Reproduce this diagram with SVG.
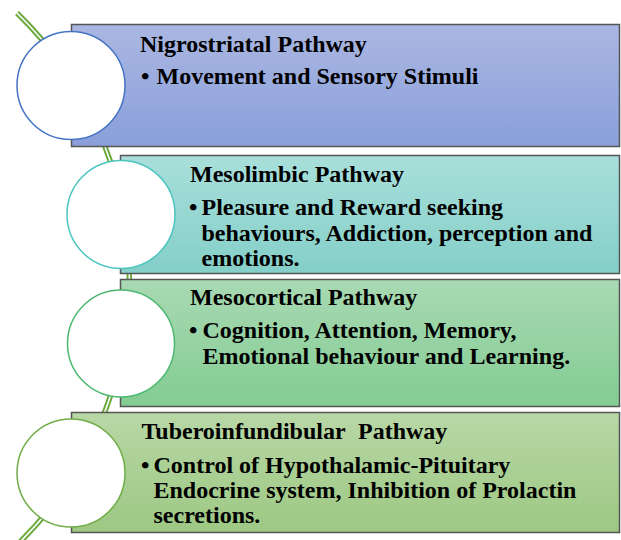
<svg xmlns="http://www.w3.org/2000/svg" width="621" height="540" viewBox="0 0 621 540">
<defs>
<linearGradient id="g1" x1="0" y1="0" x2="0" y2="1"><stop offset="0" stop-color="#AAB7E2"/><stop offset="1" stop-color="#8A9FDA"/></linearGradient>
<linearGradient id="g2" x1="0" y1="0" x2="0" y2="1"><stop offset="0" stop-color="#A9DFDB"/><stop offset="1" stop-color="#84CFC8"/></linearGradient>
<linearGradient id="g3" x1="0" y1="0" x2="0" y2="1"><stop offset="0" stop-color="#A9D9B3"/><stop offset="1" stop-color="#83CC93"/></linearGradient>
<linearGradient id="g4" x1="0" y1="0" x2="0" y2="1"><stop offset="0" stop-color="#B8D7A6"/><stop offset="1" stop-color="#9DC883"/></linearGradient>
<style>
.box{stroke:#555;stroke-width:1.5}
.circ{fill:#fff;stroke-width:1.5}
.t{font-family:'Liberation Serif','Times New Roman',serif;font-weight:bold;font-size:24px;fill:#000}
</style>
</defs>
<g id="connectors">
<path d="M 17 13 A 371 371 0 0 1 17 545" fill="none" stroke="#6AAA3E" stroke-width="5.5"/>
<path d="M 17 13 A 371 371 0 0 1 17 545" fill="none" stroke="#fff" stroke-width="1.6"/>
</g>
<g id="node1">
<rect class="box" x="71.5" y="24.5" width="548" height="122" fill="url(#g1)"/>
<circle class="circ" cx="71" cy="85.5" r="54" stroke="#4472C4"/>
<text class="t" x="140" y="51.5">Nigrostriatal Pathway</text>
<text class="t" x="141" y="84">•</text>
<text class="t" x="156.5" y="84">Movement and Sensory Stimuli</text>
</g>
<g id="node2">
<rect class="box" x="120.5" y="155.5" width="499" height="118" fill="url(#g2)"/>
<circle class="circ" cx="121" cy="214.5" r="54" stroke="#4BC5C0"/>
<text class="t" x="190" y="182">Mesolimbic Pathway</text>
<text class="t" x="189" y="215">•</text>
<text class="t" x="201.5" y="215">Pleasure and Reward seeking</text>
<text class="t" x="201.5" y="240.5">behaviours, Addiction, perception and</text>
<text class="t" x="201.5" y="265.5">emotions.</text>
</g>
<g id="node3">
<rect class="box" x="120.5" y="279.5" width="499" height="127" fill="url(#g3)"/>
<circle class="circ" cx="121" cy="343.5" r="53.5" stroke="#4DB870"/>
<text class="t" x="190" y="305">Mesocortical Pathway</text>
<text class="t" x="189" y="338">•</text>
<text class="t" x="202.5" y="338">Cognition, Attention, Memory,</text>
<text class="t" x="202.5" y="363.5">Emotional behaviour and Learning.</text>
</g>
<g id="node4">
<rect class="box" x="71.5" y="412.5" width="548" height="120" fill="url(#g4)"/>
<circle class="circ" cx="71" cy="473" r="54" stroke="#70AD47"/>
<text class="t" x="141.5" y="439">Tuberoinfundibular</text>
<text class="t" x="358" y="439">Pathway</text>
<text class="t" x="141" y="472.5">•</text>
<text class="t" x="153.5" y="472.5">Control of Hypothalamic-Pituitary</text>
<text class="t" x="153.5" y="498">Endocrine system, Inhibition of Prolactin</text>
<text class="t" x="153.5" y="523">secretions.</text>
</g>
</svg>
